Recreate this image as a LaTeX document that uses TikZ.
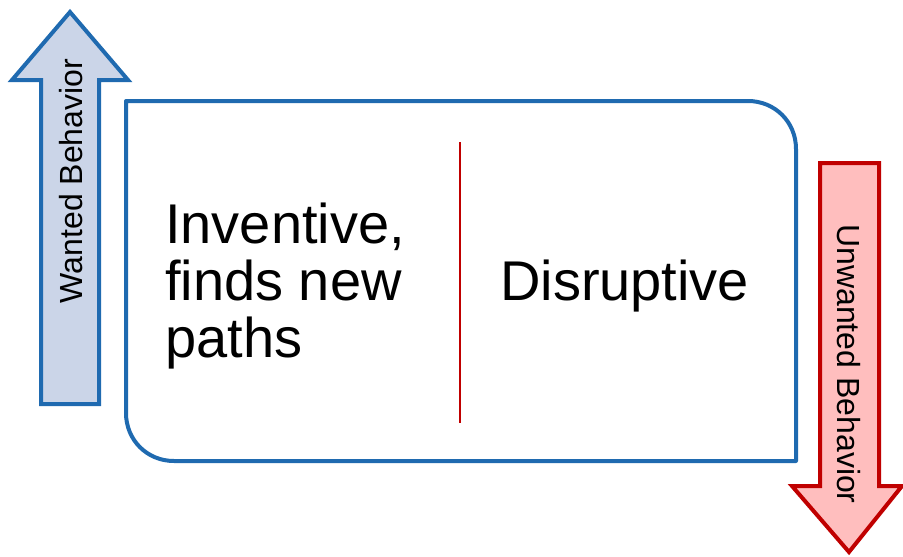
\documentclass[tikz,border=0pt]{standalone}
\usepackage{fontspec}
\setmainfont{Liberation Sans}
\definecolor{bblue}{RGB}{31,106,176}
\definecolor{bfill}{RGB}{203,213,232}
\definecolor{rred}{RGB}{192,0,0}
\definecolor{rfill}{RGB}{255,190,190}
\tikzset{
  frameline/.style={draw=bblue, line width=4pt, line join=round},
  upArrow/.style={draw=bblue, fill=bfill, line width=4pt, line join=miter},
  downArrow/.style={draw=rred, fill=rfill, line width=4pt, line join=miter},
  bigtext/.style={font=\fontsize{56}{57}\selectfont, inner sep=0pt},
  sidetext/.style={font=\fontsize{32}{36}\selectfont, inner sep=0pt}
}
\begin{document}
\begin{tikzpicture}[x=1pt,y=-1pt]
\useasboundingbox (0,0) rectangle (903,557);
% left arrow (wanted)
\draw[upArrow] (41,404) -- (41,80) -- (12,80) -- (70,12) -- (128,80) -- (99,80) -- (99,404) -- cycle;
\node[sidetext, rotate=90] (wanted) at (71,181) {Wanted Behavior};
% right arrow (unwanted)
\draw[downArrow] (820,163) -- (820,486) -- (792,486) -- (849,552) -- (902,486) -- (879,486) -- (879,163) -- cycle;
\node[sidetext, rotate=-90] (unwanted) at (849,364) {Unwanted Behavior};
% main box
\draw[frameline] (126,101) -- (748,101) .. controls (775,101) and (796,122) .. (796,149)
  -- (796,461) -- (174,461) .. controls (147,461) and (126,440) .. (126,413) -- cycle;
% divider
\coordinate (dtop) at (460,142);
\coordinate (dbot) at (460,423);
\draw[rred, line width=2.5pt] (dtop) -- (dbot);
% texts
\node[bigtext, anchor=base west, align=left] (inv) at (165,357) {Inventive,\\finds new\\paths};
\node[bigtext, anchor=base west] (dis) at (500,300) {Disruptive};
\end{tikzpicture}
\end{document}
